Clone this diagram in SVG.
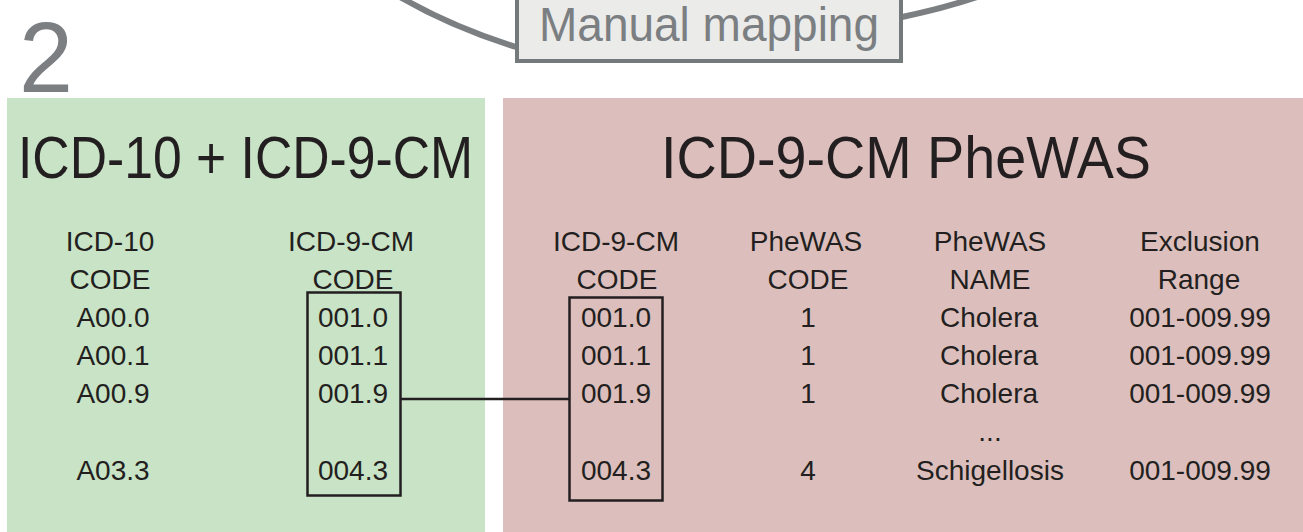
<svg xmlns="http://www.w3.org/2000/svg" width="1303" height="532" viewBox="0 0 1303 532">
<style>
.t{font-family:"Liberation Sans",Arial,sans-serif;fill:#231f20;text-anchor:middle;font-size:28px}
.title{font-size:60px}
.box{fill:none;stroke:#231f20;stroke-width:2.5}
.gray{fill:#7b7f82;font-family:"Liberation Sans",Arial,sans-serif}
</style>
<rect width="1303" height="532" fill="#ffffff"/>
<g id="step-number">
<text class="gray" x="19" y="92" font-size="100" fill="#85898c" textLength="54" lengthAdjust="spacingAndGlyphs">2</text>
</g>
<g id="panel-left">
<rect x="7" y="98" width="478" height="434" fill="#c9e3c6"/>
<text class="t title" x="245.5" y="178" textLength="455" lengthAdjust="spacingAndGlyphs">ICD-10 + ICD-9-CM</text>
<text class="t" x="110" y="251">ICD-10</text>
<text class="t" x="110" y="289">CODE</text>
<text class="t" x="113" y="327">A00.0</text>
<text class="t" x="113" y="365">A00.1</text>
<text class="t" x="113" y="403">A00.9</text>
<text class="t" x="113" y="480">A03.3</text>
<text class="t" x="351" y="251">ICD-9-CM</text>
<text class="t" x="353" y="289">CODE</text>
<text class="t" x="353" y="327">001.0</text>
<text class="t" x="353" y="365">001.1</text>
<text class="t" x="353" y="403">001.9</text>
<text class="t" x="353" y="480">004.3</text>
<rect class="box" x="307.5" y="292.5" width="93" height="203"/>
</g>
<g id="panel-right">
<rect x="503" y="98" width="800" height="434" fill="#dcbfbc"/>
<text class="t title" x="906" y="178" textLength="490" lengthAdjust="spacingAndGlyphs">ICD-9-CM PheWAS</text>
<text class="t" x="616" y="251">ICD-9-CM</text>
<text class="t" x="617" y="289">CODE</text>
<text class="t" x="616" y="327">001.0</text>
<text class="t" x="616" y="365">001.1</text>
<text class="t" x="616" y="403">001.9</text>
<text class="t" x="616" y="480">004.3</text>
<rect class="box" x="569.5" y="297.5" width="93" height="203"/>
<text class="t" x="806" y="251">PheWAS</text>
<text class="t" x="808" y="289">CODE</text>
<text class="t" x="808" y="327">1</text>
<text class="t" x="808" y="365">1</text>
<text class="t" x="808" y="403">1</text>
<text class="t" x="808" y="480">4</text>
<text class="t" x="990" y="251">PheWAS</text>
<text class="t" x="990" y="289">NAME</text>
<text class="t" x="989" y="327">Cholera</text>
<text class="t" x="989" y="365">Cholera</text>
<text class="t" x="989" y="403">Cholera</text>
<text class="t" x="990" y="441" font-size="20">...</text>
<text class="t" x="990" y="480">Schigellosis</text>
<text class="t" x="1200" y="251">Exclusion</text>
<text class="t" x="1199" y="289">Range</text>
<text class="t" x="1200" y="327">001-009.99</text>
<text class="t" x="1200" y="365">001-009.99</text>
<text class="t" x="1200" y="403">001-009.99</text>
<text class="t" x="1200" y="480">001-009.99</text>
</g>
<g id="connectors" fill="none">
<line x1="401" y1="399" x2="569" y2="399" stroke="#231f20" stroke-width="2.5"/>
<path d="M400,-3 Q452,27 516,47" stroke="#7b7f82" stroke-width="6"/>
<path d="M902,17 Q945,8 980,-4" stroke="#7b7f82" stroke-width="6"/>
</g>
<g id="manual-mapping">
<rect x="517" y="-10" width="384" height="71" fill="#ebebea" stroke="#74797c" stroke-width="4"/>
<text class="gray" x="709" y="41" font-size="48" text-anchor="middle" textLength="340" lengthAdjust="spacingAndGlyphs">Manual mapping</text>
</g>
</svg>
